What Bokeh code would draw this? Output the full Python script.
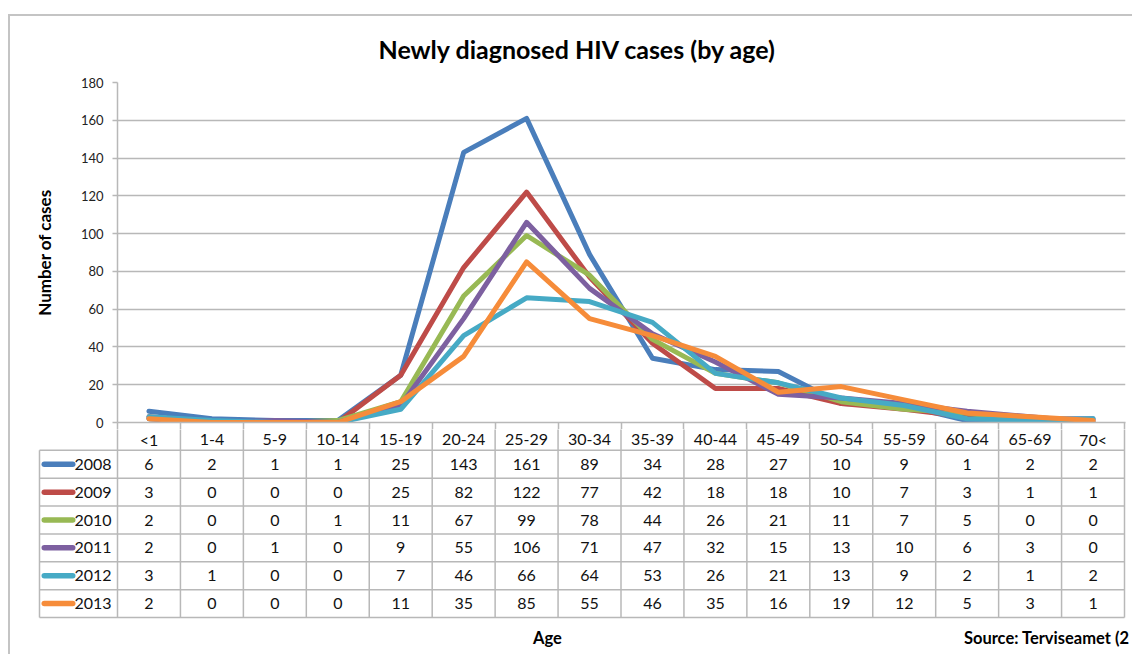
from bokeh.plotting import figure
from bokeh.models import Range1d, FixedTicker, Title, Spacer
from bokeh.layouts import column, row
from bokeh.core.properties import value
from bokeh.embed import file_html
from bokeh.resources import INLINE

# ---------------- data ----------------
categories = ["<1", "1-4", "5-9", "10-14", "15-19", "20-24", "25-29", "30-34",
              "35-39", "40-44", "45-49", "50-54", "55-59", "60-64", "65-69", "70<"]
years = ["2008", "2009", "2010", "2011", "2012", "2013"]
cases_2008 = [6, 2, 1, 1, 25, 143, 161, 89, 34, 28, 27, 10, 9, 1, 2, 2]
cases_2009 = [3, 0, 0, 0, 25, 82, 122, 77, 42, 18, 18, 10, 7, 3, 1, 1]
cases_2010 = [2, 0, 0, 1, 11, 67, 99, 78, 44, 26, 21, 11, 7, 5, 0, 0]
cases_2011 = [2, 0, 1, 0, 9, 55, 106, 71, 47, 32, 15, 13, 10, 6, 3, 0]
cases_2012 = [3, 1, 0, 0, 7, 46, 66, 64, 53, 26, 21, 13, 9, 2, 1, 2]
cases_2013 = [2, 0, 0, 0, 11, 35, 85, 55, 46, 35, 16, 19, 12, 5, 3, 1]
y_ticks = [0, 20, 40, 60, 80, 100, 120, 140, 160, 180]
title_text = "Newly diagnosed HIV cases (by age)"
y_label = "Number of cases"
x_label = "Age"
source_text = "Source: Terviseamet (2"

series = [cases_2008, cases_2009, cases_2010, cases_2011, cases_2012, cases_2013]
colors = ["#4A7EBB", "#BE4B48", "#98B954", "#7D60A0", "#46AAC5", "#F68C3A"]

# ---------------- styling / layout ----------------
FONT = "Lato"
GRID = "#b8b8b8"
TXT = "#111111"
W = 1122          # canvas width (page x 10 .. 1132)
HA = 413          # chart canvas height (page y 16 .. 429), frame 82..422
HB = 225          # table canvas height (page y 429 .. 654)
ROW = 27.86       # table row height in px
n = len(categories)
PXU = (1124 - 117) / n                # px per category
centers = [i + 0.5 for i in range(n)]
bounds = list(range(n + 1))

# ---------------- chart ----------------
pA = figure(width=W, height=HA, x_range=Range1d(0, n + 1 / PXU),
            y_range=Range1d(y_ticks[0], y_ticks[-1]),
            output_backend="svg", toolbar_location=None, frame_align=False,
            min_border_left=107, min_border_right=7, min_border_top=66,
            min_border_bottom=7)
pA.outline_line_color = None
pA.background_fill_color = "white"
pA.border_fill_color = "white"
pA.xgrid.visible = False
pA.ygrid.ticker = FixedTicker(ticks=y_ticks[1:])
pA.ygrid.grid_line_color = GRID
pA.ygrid.grid_line_width = 1.5

ya = pA.yaxis[0]
ya.ticker = FixedTicker(ticks=y_ticks, minor_ticks=[])
ya.axis_line_color = GRID
ya.axis_line_width = 1.5
ya.major_tick_line_color = GRID
ya.major_tick_line_width = 1.5
ya.major_tick_out = 5
ya.major_tick_in = 0
ya.minor_tick_line_color = None
ya.major_label_standoff = 9
ya.major_label_text_font = FONT
ya.major_label_text_font_size = "13px"
ya.major_label_text_color = "#222222"
ya.axis_label = y_label
ya.axis_label_text_font = FONT
ya.axis_label_text_font_size = "17px"
ya.axis_label_text_font_style = "bold"
ya.axis_label_text_color = "#000000"
ya.axis_label_standoff = 23

# x axis: only the axis line and the top of the table's column rules
xa = pA.xaxis[0]
xa.ticker = FixedTicker(ticks=bounds, minor_ticks=[])
xa.major_label_overrides = {b: "" for b in bounds}
xa.major_label_text_font_size = "0px"
xa.major_label_standoff = 0
xa.axis_line_color = GRID
xa.axis_line_width = 1.5
xa.major_tick_line_color = GRID
xa.major_tick_line_width = 1.5
xa.major_tick_out = 7
xa.major_tick_in = 0
xa.minor_tick_line_color = None

for vals, col in zip(series, colors):
    pA.line(x=centers, y=vals, line_color=col, line_width=5,
            line_join="round", line_cap="round")

pA.title = Title(text=title_text, align="left", offset=261, text_font=FONT,
                 text_font_size="25px", text_font_style="bold", text_color="#000000",
                 standoff=34, vertical_align="top")

# ---------------- data table ----------------
TOP = 422  # page y of the table's first rule (x axis)
x_left = (10 - 117) / PXU
x_right = (10 + W - 117) / PXU
leg_left = (39 - 117) / PXU
pB = figure(width=W, height=HB, x_range=Range1d(x_left, x_right),
            y_range=Range1d((429 + HB - TOP) / ROW, (429 - TOP) / ROW),
            output_backend="svg", toolbar_location=None, min_border=0, frame_align=False,
            x_axis_location=None, y_axis_location=None)
pB.grid.visible = False
pB.outline_line_color = None
pB.background_fill_color = "white"
pB.border_fill_color = "white"

nrows = len(years)
# horizontal rules below the header row
hy = list(range(1, nrows + 2))
pB.segment(x0=[leg_left] * len(hy), x1=[n] * len(hy), y0=hy, y1=hy,
           line_color=GRID, line_width=1.5)
# vertical rules
pB.segment(x0=bounds, x1=bounds, y0=[0] * len(bounds), y1=[nrows + 1] * len(bounds),
           line_color=GRID, line_width=1.5)
pB.segment(x0=[leg_left], x1=[leg_left], y0=[1], y1=[nrows + 1],
           line_color=GRID, line_width=1.5)

# header row: category labels
pB.text(x=centers, y=[0.62] * n, text=categories, text_align="center", text_baseline="middle",
        text_font=value(FONT), text_font_size="16px", text_color=TXT)

row_y = [k + 1.5 for k in range(nrows)]
pB.segment(x0=[(41 + 2.75 - 117) / PXU] * nrows, x1=[(75 - 2.75 - 117) / PXU] * nrows,
           y0=row_y, y1=row_y, line_color=colors, line_width=5.5, line_cap="round")
pB.text(x=[(111 - 117) / PXU] * nrows, y=row_y, text=years, text_align="right",
        text_baseline="middle", text_font=value(FONT), text_font_size="16px", text_color=TXT)

tx, ty, tt = [], [], []
for k, vals in enumerate(series):
    for i, v in enumerate(vals):
        tx.append(centers[i])
        ty.append(row_y[k])
        tt.append(str(v))
pB.text(x=tx, y=ty, text=tt, text_align="center", text_baseline="middle",
        text_font=value(FONT), text_font_size="16px", text_color=TXT)

foot_y = (637 - TOP) / ROW
pB.text(x=[(547 - 117) / PXU], y=[foot_y], text=[x_label], text_align="center",
        text_baseline="middle", text_font=value(FONT), text_font_size="16.5px",
        text_font_style="bold", text_color="#000000")
pB.text(x=[(1129 - 117) / PXU], y=[foot_y], text=[source_text], text_align="right",
        text_baseline="middle", text_font=value(FONT), text_font_size="16.5px",
        text_font_style="bold", text_color="#000000")

boxed = column(pA, pB, spacing=0,
               styles={"border-top": "2px solid #c4c4c4", "border-left": "2px solid #c4c4c4"})
layout = column(Spacer(height=14, width=8),
                row(Spacer(width=8, height=10), boxed, spacing=0), spacing=0)

open("out.html", "w").write(file_html(layout, INLINE))
